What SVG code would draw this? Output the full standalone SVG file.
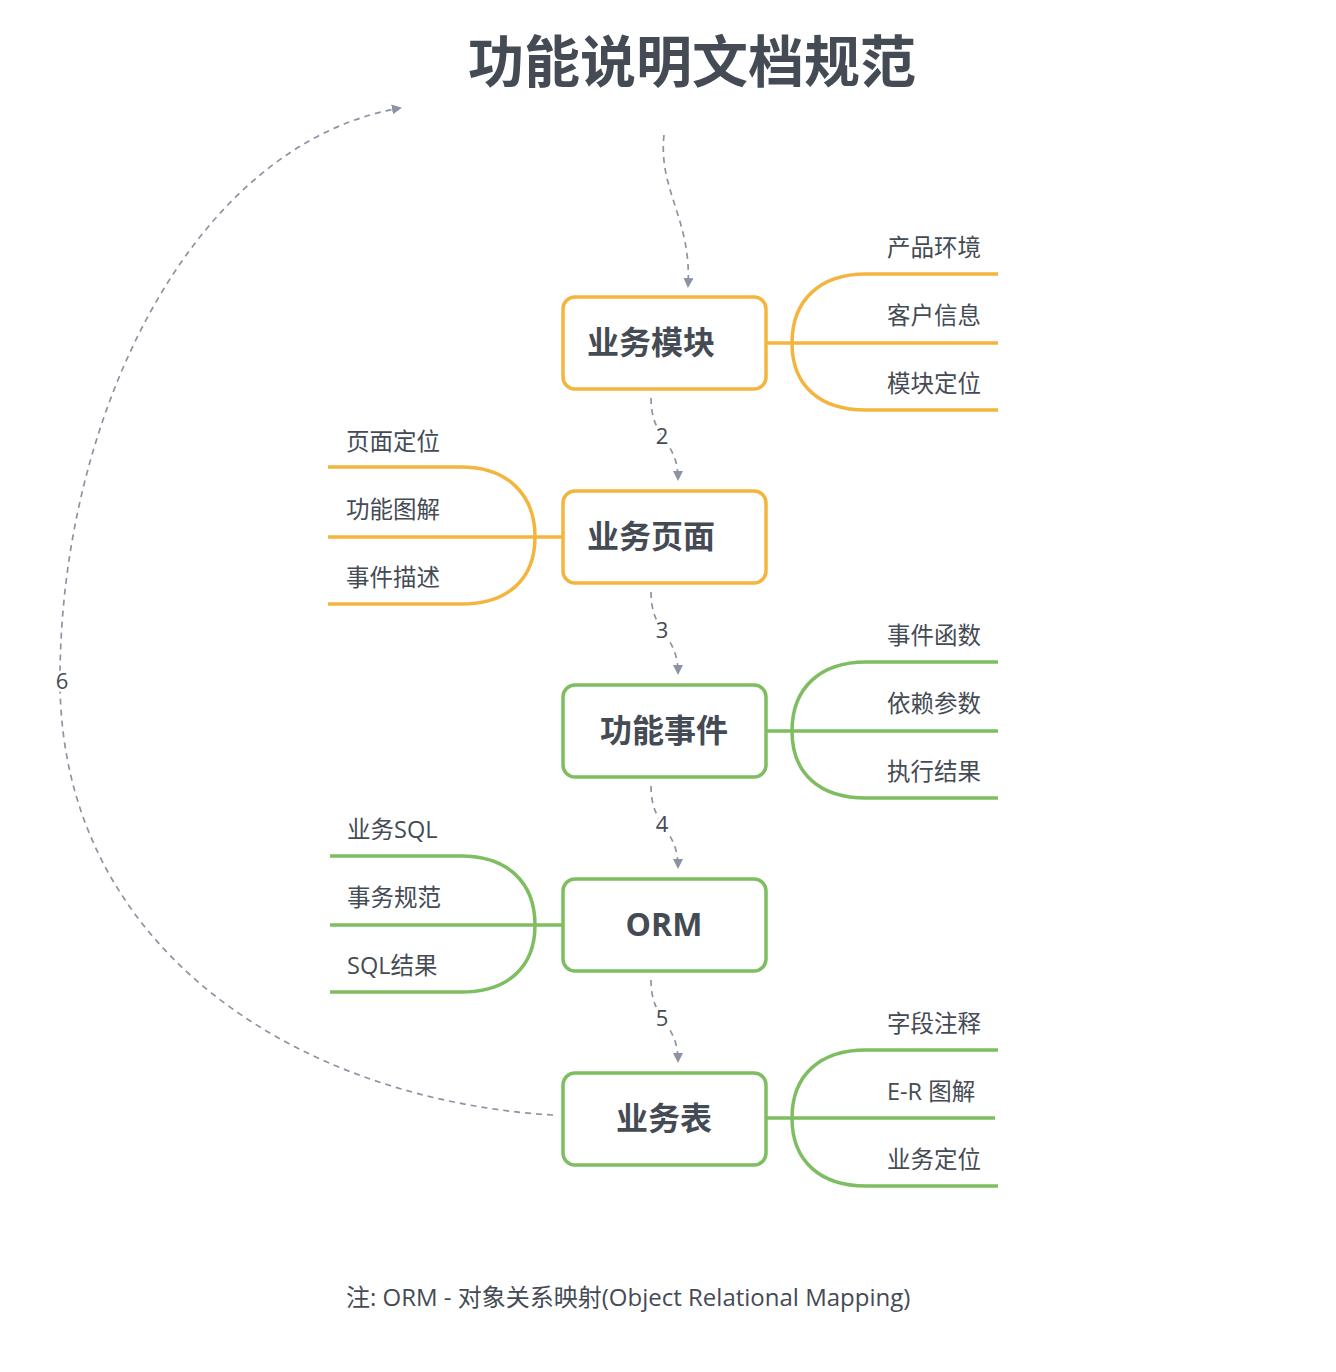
<svg xmlns="http://www.w3.org/2000/svg" width="1336" height="1372" viewBox="0 0 1336 1372">
<defs>
<marker id="arr" viewBox="0 0 10 10" refX="8" refY="5" markerWidth="10" markerHeight="10" markerUnits="userSpaceOnUse" orient="auto">
<path d="M0,0 L10,5 L0,10 z" fill="#8C94A3"/>
</marker>
</defs>
<style>
text{font-family:"Open Sans","Noto Sans CJK SC",sans-serif;fill:#454B54}
.title{font-size:56px;font-weight:bold;font-family:"Noto Sans CJK SC","Open Sans",sans-serif}
.node{font-size:32px;font-weight:bold}
.lbl{font-size:23.5px}
.foot{font-size:24px}
.cl{font-size:22px;stroke:#fff;stroke-width:6px;paint-order:stroke}
.o{fill:#fff;stroke:#F4B53F;stroke-width:3.5}
.g{fill:#fff;stroke:#7EBE60;stroke-width:3.5}
.bo{fill:none;stroke:#F4B53F;stroke-width:3.5}
.bg{fill:none;stroke:#7EBE60;stroke-width:3.5}
.dash{fill:none;stroke:#8C94A3;stroke-width:1.7;stroke-dasharray:6 5}
</style>
<rect width="1336" height="1372" fill="#fff"/>
<text class="title" x="692" y="82" text-anchor="middle">功能说明文档规范</text>

<g id="connectors">
<path class="dash" d="M664,135 C658,190 692,220 688,286" marker-end="url(#arr)"/>
<path class="dash" d="M651,398 C651,440 678,440 678,479" marker-end="url(#arr)"/>
<path class="dash" d="M651,592 C651,634 678,634 678,673" marker-end="url(#arr)"/>
<path class="dash" d="M651,786 C651,828 678,828 678,867" marker-end="url(#arr)"/>
<path class="dash" d="M651,980 C651,1022 678,1022 678,1061" marker-end="url(#arr)"/>
<path class="dash" d="M553,1115 C300,1100 60,950 60,680 C60,420 190,145 400,108" marker-end="url(#arr)"/>
<text class="cl" x="662" y="444" text-anchor="middle">2</text>
<text class="cl" x="662" y="638" text-anchor="middle">3</text>
<text class="cl" x="662" y="832" text-anchor="middle">4</text>
<text class="cl" x="662" y="1026" text-anchor="middle">5</text>
<text class="cl" x="62" y="689" text-anchor="middle">6</text>
</g>

<g id="node1">
<path class="bo" d="M766,343 H998 M792,343 C792,300 820,274 866,274 H998 M792,343 C792,386 820,410 866,410 H998"/>
<rect class="o" x="563" y="297" width="203" height="92" rx="12"/>
<text class="node" x="651" y="354" text-anchor="middle">业务模块</text>
<text class="lbl" x="887" y="256">产品环境</text>
<text class="lbl" x="887" y="324">客户信息</text>
<text class="lbl" x="887" y="392">模块定位</text>
</g>

<g id="node2">
<path class="bo" d="M563,537 H328 M535,537 C535,494 507,467 461,467 H328 M535,537 C535,580 507,604 461,604 H328"/>
<rect class="o" x="563" y="491" width="203" height="92" rx="12"/>
<text class="node" x="651" y="548" text-anchor="middle">业务页面</text>
<text class="lbl" x="346" y="450">页面定位</text>
<text class="lbl" x="346" y="518">功能图解</text>
<text class="lbl" x="346" y="586">事件描述</text>
</g>

<g id="node3">
<path class="bg" d="M766,731 H998 M792,731 C792,688 820,662 866,662 H998 M792,731 C792,774 820,798 866,798 H998"/>
<rect class="g" x="563" y="685" width="203" height="92" rx="12"/>
<text class="node" x="664" y="742" text-anchor="middle">功能事件</text>
<text class="lbl" x="887" y="644">事件函数</text>
<text class="lbl" x="887" y="712">依赖参数</text>
<text class="lbl" x="887" y="780">执行结果</text>
</g>

<g id="node4">
<path class="bg" d="M563,925 H330 M535,925 C535,882 507,856 461,856 H330 M535,925 C535,968 507,992 461,992 H330"/>
<rect class="g" x="563" y="879" width="203" height="92" rx="12"/>
<text class="node" x="664" y="936" text-anchor="middle">ORM</text>
<text class="lbl" x="347" y="838">业务SQL</text>
<text class="lbl" x="347" y="906">事务规范</text>
<text class="lbl" x="347" y="974">SQL结果</text>
</g>

<g id="node5">
<path class="bg" d="M766,1118 H995 M792,1118 C792,1075 820,1050 866,1050 H998 M792,1118 C792,1161 820,1186 866,1186 H998"/>
<rect class="g" x="563" y="1073" width="203" height="92" rx="12"/>
<text class="node" x="664" y="1130" text-anchor="middle">业务表</text>
<text class="lbl" x="887" y="1032">字段注释</text>
<text class="lbl" x="887" y="1100">E-R 图解</text>
<text class="lbl" x="887" y="1168">业务定位</text>
</g>

<text class="foot" x="346" y="1306">注: ORM - 对象关系映射(Object Relational Mapping)</text>
</svg>
